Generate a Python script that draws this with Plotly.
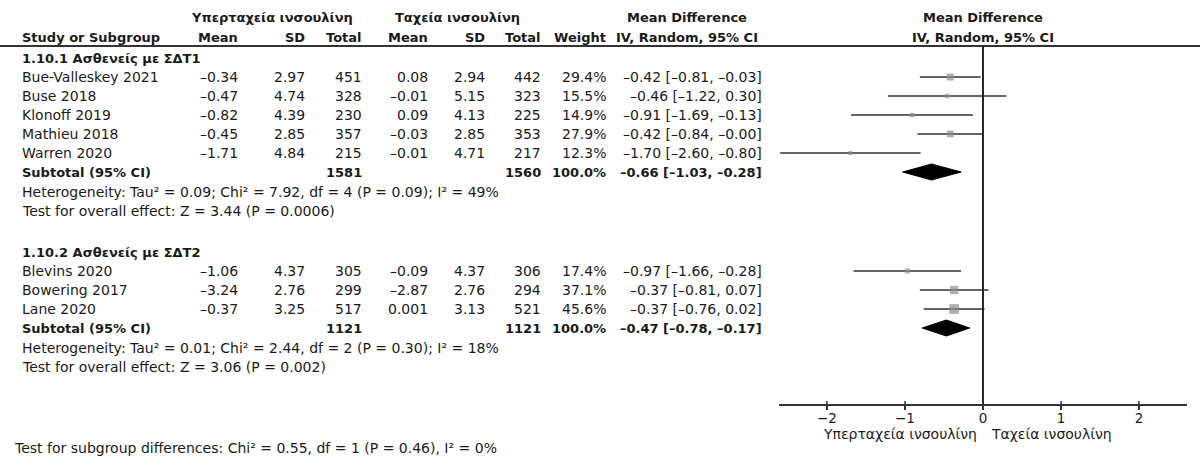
import plotly.graph_objects as go

# ---------------- data ----------------
grp1_name = "1.10.1 Ασθενείς με ΣΔΤ1"
grp1_studies = ["Bue-Valleskey 2021", "Buse 2018", "Klonoff 2019", "Mathieu 2018", "Warren 2020"]
grp1_mean_e = [-0.34, -0.47, -0.82, -0.45, -1.71]
grp1_sd_e = [2.97, 4.74, 4.39, 2.85, 4.84]
grp1_n_e = [451, 328, 230, 357, 215]
grp1_mean_c = [0.08, -0.01, 0.09, -0.03, -0.01]
grp1_sd_c = [2.94, 5.15, 4.13, 2.85, 4.71]
grp1_n_c = [442, 323, 225, 353, 217]
grp1_weight = [29.4, 15.5, 14.9, 27.9, 12.3]
grp1_md = [-0.42, -0.46, -0.91, -0.42, -1.70]
grp1_lo = [-0.81, -1.22, -1.69, -0.84, -2.60]
grp1_hi = [-0.03, 0.30, -0.13, -0.0, -0.80]
grp1_sub = dict(n_e=1581, n_c=1560, md=-0.66, lo=-1.03, hi=-0.28)
grp1_het = "Heterogeneity: Tau² = 0.09; Chi² = 7.92, df = 4 (P = 0.09); I² = 49%"
grp1_test = "Test for overall effect: Z = 3.44 (P = 0.0006)"

grp2_name = "1.10.2 Ασθενείς με ΣΔΤ2"
grp2_studies = ["Blevins 2020", "Bowering 2017", "Lane 2020"]
grp2_mean_e = [-1.06, -3.24, -0.37]
grp2_sd_e = [4.37, 2.76, 3.25]
grp2_n_e = [305, 299, 517]
grp2_mean_c = [-0.09, -2.87, 0.001]
grp2_sd_c = [4.37, 2.76, 3.13]
grp2_n_c = [306, 294, 521]
grp2_weight = [17.4, 37.1, 45.6]
grp2_md = [-0.97, -0.37, -0.37]
grp2_lo = [-1.66, -0.81, -0.76]
grp2_hi = [-0.28, 0.07, 0.02]
grp2_sub = dict(n_e=1121, n_c=1121, md=-0.47, lo=-0.78, hi=-0.17)
grp2_het = "Heterogeneity: Tau² = 0.01; Chi² = 2.44, df = 2 (P = 0.30); I² = 18%"
grp2_test = "Test for overall effect: Z = 3.06 (P = 0.002)"

subgroup_test = "Test for subgroup differences: Chi² = 0.55, df = 1 (P = 0.46), I² = 0%"

exp_label = "Υπερταχεία ινσουλίνη"
ctl_label = "Ταχεία ινσουλίνη"
tick_vals = [-2, -1, 0, 1, 2]

# ---------------- layout constants ----------------
W, H = 1202, 457
FONT = "DejaVu Sans"
REG = 14
BOLD = 13
TXT = "#1a1a1a"
LINE = "#333333"

X_STUDY = 21
X_MEAN_E, X_SD_E, X_N_E = 239, 306, 363
X_MEAN_C, X_SD_C, X_N_C = 429, 486, 542
X_WEIGHT, X_CI = 607, 763
X_GRP_E, X_GRP_C = 272, 457
X_MDHDR = 687
PLOT_L, PLOT_R = 779, 1187
AXIS_Y = 405
HDR_LINE_Y = 46

def fmt(v):
    s = f"{v:.3f}" if (v != 0 and abs(v) < 0.01) else f"{v:.2f}"
    return s.replace("-", "–")

def ci_text(md, lo, hi):
    return f"{fmt(md)} [{fmt(lo)}, {fmt(hi)}]"

fig = go.Figure()
annotations = []

def txt(text, x, y, anchor="left", bold=False, size=None):
    annotations.append(dict(
        text=f"<b>{text}</b>" if bold else text,
        x=x / W, xref="paper", y=y, yref="y",
        xanchor=anchor, yanchor="middle", showarrow=False, borderpad=0,
        font=dict(family=FONT, size=size or (BOLD if bold else REG), color=TXT),
    ))

# headers
txt(exp_label, X_GRP_E, 17, "center", bold=True)
txt(ctl_label, X_GRP_C, 17, "center", bold=True)
txt("Mean Difference", X_MDHDR, 17, "center", bold=True)
txt("Mean Difference", 983, 17, "center", bold=True)
txt("Study or Subgroup", X_STUDY, 37, "left", bold=True)
for lab, x in [("Mean", X_MEAN_E), ("SD", X_SD_E), ("Total", X_N_E),
               ("Mean", X_MEAN_C), ("SD", X_SD_C), ("Total", X_N_C), ("Weight", X_WEIGHT)]:
    txt(lab, x, 37, "right", bold=True)
txt("IV, Random, 95% CI", X_MDHDR, 37, "center", bold=True)
txt("IV, Random, 95% CI", 983, 37, "center", bold=True)

groups = [
    (grp1_name, grp1_studies, grp1_mean_e, grp1_sd_e, grp1_n_e, grp1_mean_c, grp1_sd_c, grp1_n_c,
     grp1_weight, grp1_md, grp1_lo, grp1_hi, grp1_sub, grp1_het, grp1_test, 58),
    (grp2_name, grp2_studies, grp2_mean_e, grp2_sd_e, grp2_n_e, grp2_mean_c, grp2_sd_c, grp2_n_c,
     grp2_weight, grp2_md, grp2_lo, grp2_hi, grp2_sub, grp2_het, grp2_test, 252),
]
ROW = 19

for (gname, studies, me, se, ne, mc, sc, nc, wt, md, lo, hi, sub, het, test, y0) in groups:
    txt(gname, X_STUDY, y0, "left", bold=True)
    ys = []
    for i, s in enumerate(studies):
        y = y0 + ROW * (i + 1)
        ys.append(y)
        txt(s, X_STUDY, y)
        txt(fmt(me[i]), X_MEAN_E, y, "right")
        txt(fmt(se[i]), X_SD_E, y, "right")
        txt(str(ne[i]), X_N_E, y, "right")
        txt(fmt(mc[i]), X_MEAN_C, y, "right")
        txt(fmt(sc[i]), X_SD_C, y, "right")
        txt(str(nc[i]), X_N_C, y, "right")
        txt(f"{wt[i]:.1f}%", X_WEIGHT, y, "right")
        txt(ci_text(md[i], lo[i], hi[i]), X_CI, y, "right")
    ysub = y0 + ROW * (len(studies) + 1)
    txt("Subtotal (95% CI)", X_STUDY, ysub, "left", bold=True)
    txt(str(sub["n_e"]), X_N_E, ysub, "right", bold=True)
    txt(str(sub["n_c"]), X_N_C, ysub, "right", bold=True)
    txt("100.0%", X_WEIGHT, ysub, "right", bold=True)
    txt(ci_text(sub["md"], sub["lo"], sub["hi"]), X_CI, ysub, "right", bold=True)
    txt(het, X_STUDY, ysub + 20)
    txt(test, X_STUDY, ysub + 39)

    # CI whiskers
    lx, ly = [], []
    for i in range(len(studies)):
        lx += [lo[i], hi[i], None]
        ly += [ys[i], ys[i], None]
    fig.add_trace(go.Scatter(x=lx, y=ly, mode="lines", line=dict(color=LINE, width=1.6),
                             hoverinfo="skip", showlegend=False))
    # weight squares
    fig.add_trace(go.Scatter(x=md, y=ys, mode="markers",
                             marker=dict(symbol="square", color="#8e8e8e",
                                         size=[2 + 0.17 * w for w in wt], line=dict(width=0)),
                             hoverinfo="skip", showlegend=False))
    # diamond
    dh = 8
    fig.add_trace(go.Scatter(
        x=[sub["lo"], sub["md"], sub["hi"], sub["md"], sub["lo"]],
        y=[ysub, ysub - dh, ysub, ysub + dh, ysub],
        mode="lines", fill="toself", fillcolor="#000000",
        line=dict(color="#000000", width=1), hoverinfo="skip", showlegend=False))

txt(subgroup_test, 13, 448)

# axis labels below ticks
txt(exp_label, 978, 434, "right")
txt(ctl_label, 990, 434, "left")

shapes = [
    dict(type="line", xref="paper", yref="y", x0=0, x1=1200 / W, y0=HDR_LINE_Y, y1=HDR_LINE_Y,
         line=dict(color=LINE, width=2)),
    dict(type="line", xref="x", yref="y", x0=0, x1=0, y0=HDR_LINE_Y, y1=AXIS_Y,
         line=dict(color="#111111", width=1.8)),
]
for t in tick_vals:
    shapes.append(dict(type="line", xref="x", yref="y", x0=t, x1=t, y0=AXIS_Y - 4, y1=AXIS_Y,
                       line=dict(color=LINE, width=1.5)))

half = (PLOT_R - PLOT_L) / 2 / 78.0  # half-range in data units (78 px per unit)
fig.update_layout(
    width=W, height=H,
    margin=dict(l=0, r=0, t=0, b=0),
    paper_bgcolor="white", plot_bgcolor="rgba(0,0,0,0)",
    showlegend=False,
    xaxis=dict(domain=[PLOT_L / W, PLOT_R / W], range=[-half, half],
               anchor="free", position=(H - AXIS_Y) / H,
               showline=True, linecolor=LINE, linewidth=1.6,
               ticks="outside", ticklen=4, tickwidth=1.5, tickcolor=LINE,
               tickvals=tick_vals, showgrid=False, zeroline=False, ticklabelstandoff=-3,
               tickfont=dict(family=FONT, size=13.5, color=TXT), fixedrange=True),
    yaxis=dict(domain=[0, 1], range=[H, 0], visible=False, showgrid=False, zeroline=False,
               fixedrange=True),
    annotations=annotations,
    shapes=shapes,
)

fig.write_html("out.html", config={"displayModeBar": False},
               post_script="document.body.style.margin='0px';")
